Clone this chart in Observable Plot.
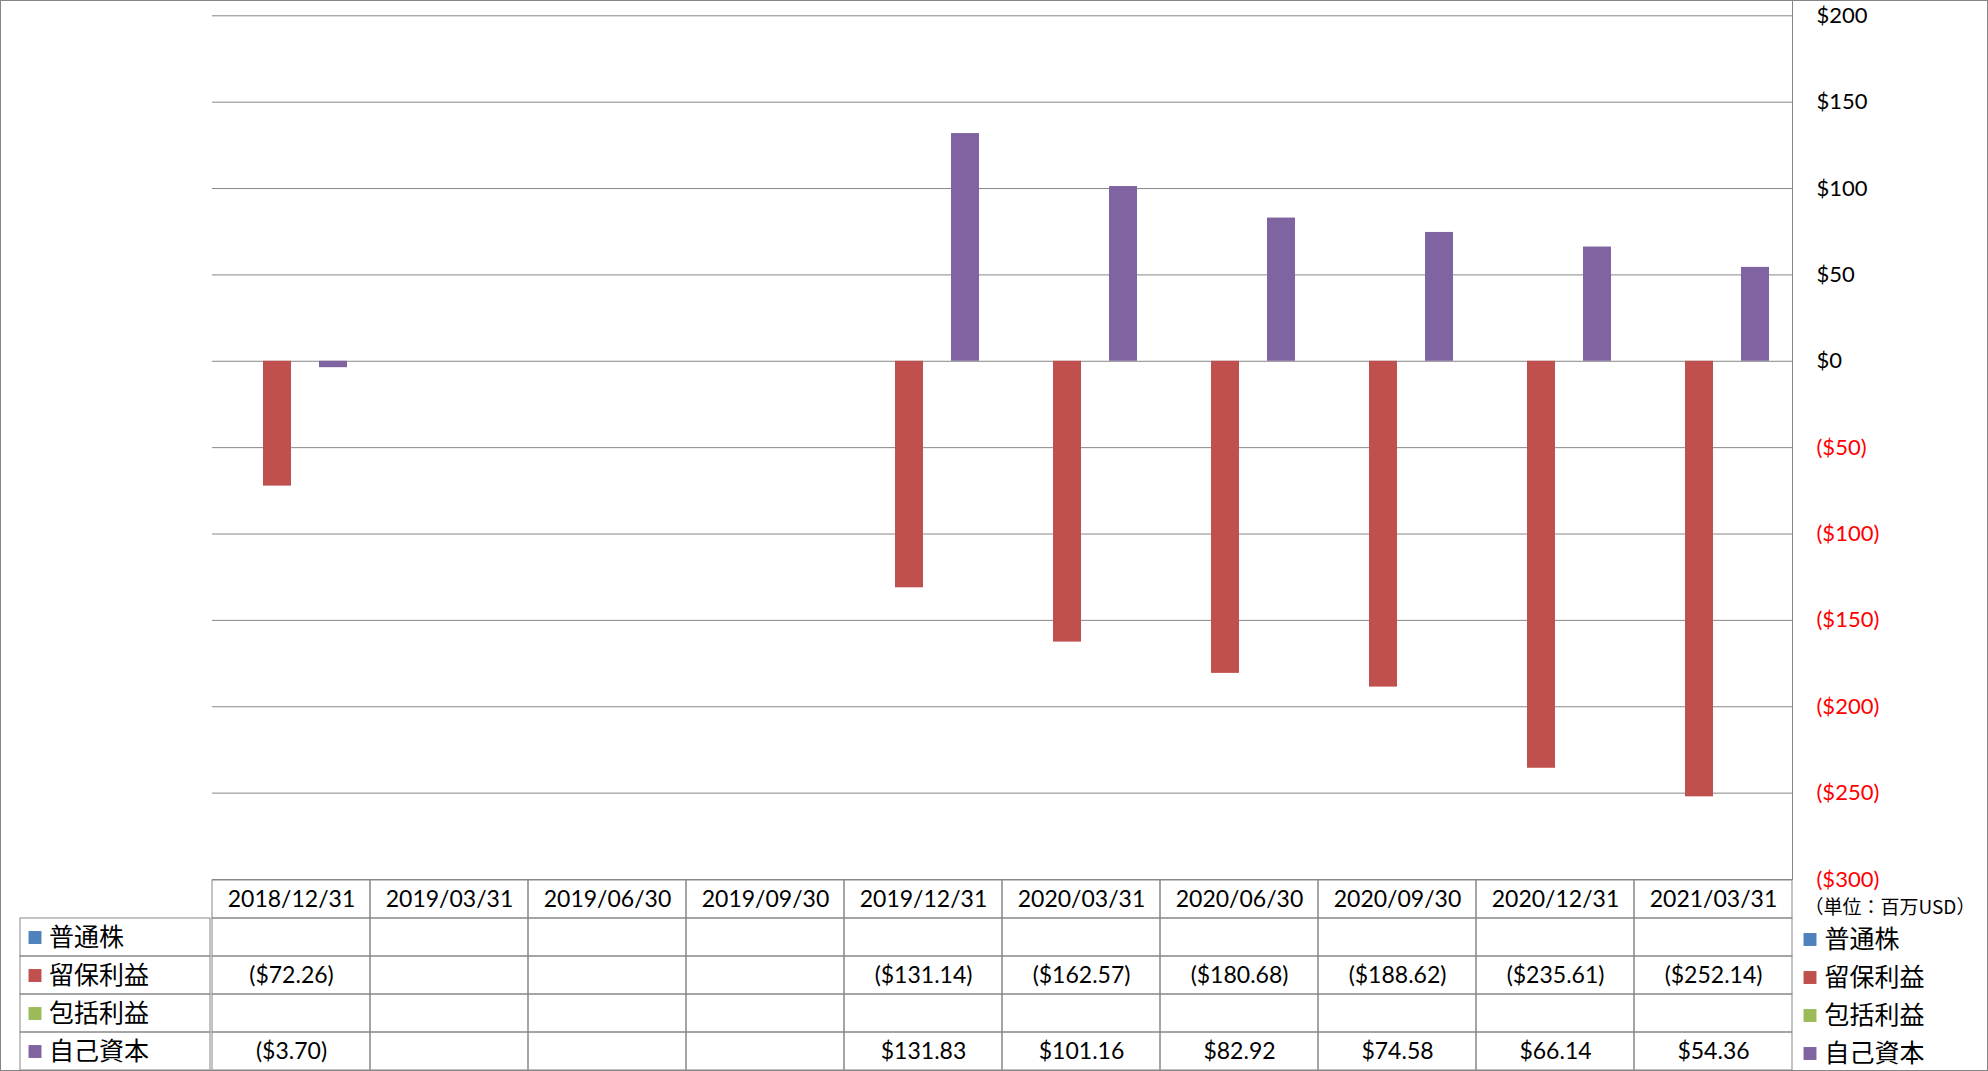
<!DOCTYPE html>
<html>
<head>
<meta charset="utf-8">
<script src="https://cdn.jsdelivr.net/npm/d3@7"></script>
<script src="https://cdn.jsdelivr.net/npm/@observablehq/plot@0.6"></script>
<style>
html, body { margin: 0; padding: 0; background: #fff; }
#root { position: relative; width: 1988px; height: 1071px; overflow: hidden; background: #fff; }
#root svg { position: absolute; }
#border { position: absolute; left: 0; top: 0; width: 1988px; height: 1071px; box-sizing: border-box; border: 1px solid #868686; pointer-events: none; }
</style>
</head>
<body>
<div id="root"><div id="border"></div></div>
<script>
// ---- data ----
const dates = ["2018/12/31", "2019/03/31", "2019/06/30", "2019/09/30", "2019/12/31",
               "2020/03/31", "2020/06/30", "2020/09/30", "2020/12/31", "2021/03/31"];
const series = ["普通株", "留保利益", "包括利益", "自己資本"];
const seriesColors = ["#4F81BD", "#C0504D", "#9BBB59", "#8064A2"];
const commonStock = [null, null, null, null, null, null, null, null, null, null];
const retainedEarnings = [-72.26, null, null, null, -131.14, -162.57, -180.68, -188.62, -235.61, -252.14];
const comprehensiveIncome = [null, null, null, null, null, null, null, null, null, null];
const equity = [-3.70, null, null, null, 131.83, 101.16, 82.92, 74.58, 66.14, 54.36];
const yTicks = [200, 150, 100, 50, 0, -50, -100, -150, -200, -250, -300];
const unitLabel = "（単位：百万USD）";
const headerKey = "header";

// ---- derived tables ----
const seriesValues = [commonStock, retainedEarnings, comprehensiveIncome, equity];
const records = series.flatMap((s, j) => dates.map((d, i) => ({date: d, series: s, value: seriesValues[j][i]})));
const rowKeys = [headerKey, ...series];
const gridCells = rowKeys.flatMap(r => dates.map(d => ({date: d, row: r})));
const valueCells = records.filter(r => r.value != null);

const fmtAxis = v => v < 0 ? `($${-v})` : `$${v}`;
const fmtTable = v => v < 0 ? `($${Math.abs(v).toFixed(2)})` : `$${v.toFixed(2)}`;

const GRID = "#878787";
const LATIN = "Lato, 'Open Sans', sans-serif";
const CJK = "'Noto Sans CJK JP', sans-serif";
const baseStyle = {background: "transparent", overflow: "visible", fontFamily: LATIN, color: "#000"};
const colorScale = {domain: series, range: seriesColors};

const root = document.getElementById("root");
const border = document.getElementById("border");

// ---- chart ----
const chart = Plot.plot({
  width: 1988, height: 900,
  marginLeft: 210, marginRight: 195, marginTop: 0, marginBottom: 21,
  style: {...baseStyle, fontSize: "22px"},
  fx: {domain: dates, paddingInner: 0, paddingOuter: 0, axis: null, label: null},
  x: {domain: series, paddingInner: 0, paddingOuter: 0.75, axis: null},
  y: {domain: [-300, 200], range: [879, 15.3], axis: null},
  color: colorScale,
  marks: [
    Plot.ruleY(yTicks, {stroke: GRID, strokeWidth: 1}),
    Plot.barY(records, {fx: "date", x: "series", y: "value", fill: "series"}),
    Plot.frame({anchor: "right", facetAnchor: "right", stroke: GRID}),
    Plot.axisY({anchor: "right", ticks: yTicks.filter(v => v >= 0), tickSize: 0, tickPadding: 24,
                tickFormat: fmtAxis, fill: "#000", label: null, fontSize: 22}),
    Plot.axisY({anchor: "right", ticks: yTicks.filter(v => v < 0), tickSize: 0, tickPadding: 24,
                tickFormat: fmtAxis, fill: "#FF0000", label: null, fontSize: 22})
  ]
});
chart.style.left = "0px"; chart.style.top = "0px";
root.insertBefore(chart, border);

// ---- row label column ----
const labelCol = Plot.plot({
  width: 191, height: 192, marginTop: 0, marginLeft: 0, marginRight: 1, marginBottom: 1,
  style: {...baseStyle, fontSize: "25px"},
  y: {type: "band", domain: rowKeys, range: [0, 191], padding: 0, axis: null},
  color: colorScale,
  marks: [
    Plot.cell(series, {y: d => d, stroke: GRID, fill: "none"}),
    Plot.dot(series, {y: d => d, frameAnchor: "left", dx: 14.5, symbol: "square", r: 7.3, fill: d => d}),
    Plot.text(series, {y: d => d, frameAnchor: "left", dx: 28.5, text: d => d, textAnchor: "start",
                       fontSize: 25, fontFamily: CJK, fill: "#000"})
  ]
});
labelCol.style.left = "20px"; labelCol.style.top = "879px";
root.insertBefore(labelCol, border);

// ---- data table ----
const table = Plot.plot({
  width: 1584, height: 192, marginTop: 0, marginLeft: 0, marginRight: 1, marginBottom: 1,
  style: {...baseStyle, fontSize: "23px"},
  x: {type: "band", domain: dates, range: [0, 1583], padding: 0, axis: null},
  y: {type: "band", domain: rowKeys, range: [0, 191], padding: 0, axis: null},
  marks: [
    Plot.cell(gridCells, {x: "date", y: "row", stroke: GRID, fill: "none"}),
    Plot.text(dates, {x: d => d, y: () => headerKey, text: d => d, fontSize: 23, fill: "#000"}),
    Plot.text(valueCells, {x: "date", y: "series", text: d => fmtTable(d.value), fontSize: 23, fill: "#000"})
  ]
});
table.style.left = "210px"; table.style.top = "879px";
root.insertBefore(table, border);

// ---- right legend ----
const legend = Plot.plot({
  width: 195, height: 192, marginTop: 0, marginLeft: 0, marginRight: 1, marginBottom: 1,
  style: {...baseStyle, fontSize: "25px"},
  y: {type: "band", domain: rowKeys, range: [0, 191], padding: 0, axis: null},
  color: colorScale,
  marks: [
    Plot.text([unitLabel], {y: () => headerKey, frameAnchor: "left", dx: 11, dy: 8, text: d => d,
                            textAnchor: "start", fontSize: 19, fontFamily: CJK, fill: "#000"}),
    Plot.dot(series, {y: d => d, frameAnchor: "left", dx: 16.5, dy: 2, symbol: "square", r: 7.3, fill: d => d}),
    Plot.text(series, {y: d => d, frameAnchor: "left", dx: 31, dy: 2, text: d => d, textAnchor: "start",
                       fontSize: 25, fontFamily: CJK, fill: "#000"})
  ]
});
legend.style.left = "1793px"; legend.style.top = "879px";
root.insertBefore(legend, border);
</script>
</body>
</html>
